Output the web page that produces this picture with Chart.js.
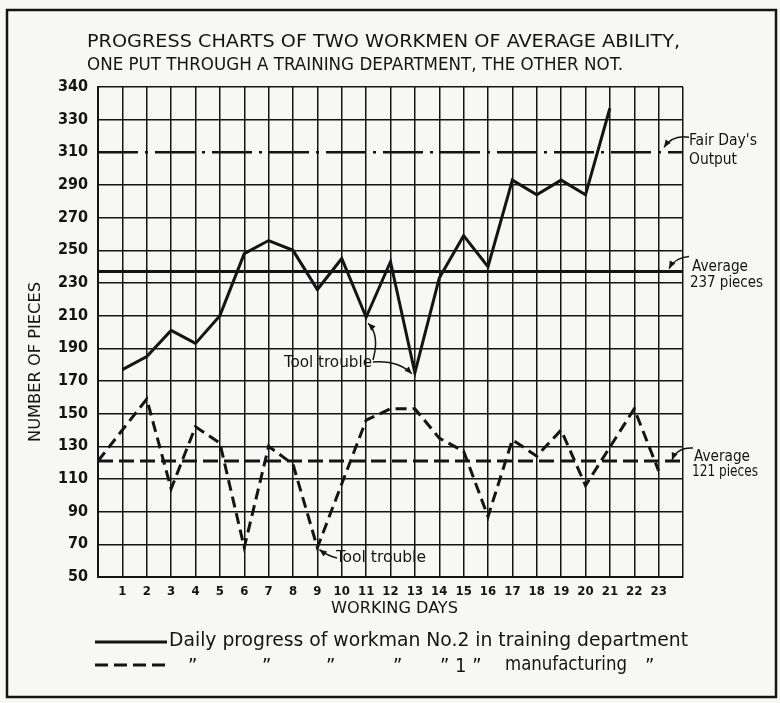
<!DOCTYPE html>
<html><head><meta charset="utf-8">
<script src="https://cdn.jsdelivr.net/npm/chart.js@4.4.1/dist/chart.umd.min.js"></script>
<style>html,body{margin:0;padding:0;background:#f7f7f5;}#wrap{width:780px;height:703px;}</style>
</head><body><div id="wrap"><canvas id="c" width="780" height="703"></canvas></div>
<script>
// ---- data ----
const titleLines = ["PROGRESS CHARTS OF TWO WORKMEN OF AVERAGE ABILITY,", "ONE PUT THROUGH A TRAINING DEPARTMENT, THE OTHER NOT."];
const xAxisTitle = "WORKING DAYS";
const yAxisTitle = "NUMBER OF PIECES";
const dayLabels = ["1","2","3","4","5","6","7","8","9","10","11","12","13","14","15","16","17","18","19","20","21","22","23"];
const yTickValues = [50,70,90,110,130,150,170,190,210,230,250,270,290,310,330,350];
const yTickLabels = ["50","70","90","110","130","150","170","190","210","230","250","270","290","310","330","340"];
const workman2Days = [1,2,3,4,5,6,7,8,9,10,11,12,13,14,15,16,17,18,19,20,21];
const workman2Pieces = [177,185,201,193,210,248,256,250,226,245,209,243,175,233,259,240,293,284,293,284,337];
const workman1Days = [0,2,3,4,5,6,7,8,9,11,12,13,14,15,16,17,18,19,20,22,23];
const workman1Pieces = [121,159,104,142,132,68,130,119,68,146,153,153,135,127,87,134,124,140,106,153,115];
const fairDayOutput = 310;
const workman2Average = 237;
const workman1Average = 121;
const annotationTexts = {fair:["Fair Day's","Output"], avg2:["Average","237 pieces"], avg1:["Average","121 pieces"], tool:"Tool trouble"};
const legendLine1 = "Daily progress of workman No.2 in training department";
const legendLine2Parts = ["\u201D","\u201D","\u201D","\u201D","\u201D 1 \u201D","manufacturing","\u201D"];

// ---- drawing ----
const FONT = '"DejaVu Sans Condensed","DejaVu Sans",sans-serif';
const INK = '#141414';
const pts = (xs, ys) => xs.map((x, i) => ({x, y: ys[i]}));
const flat = v => [{x:0,y:v},{x:24,y:v}];

// draw text left-aligned at (x,y), stretched/compressed horizontally to the given width
function fitText(c, text, x, y, width, size) {
  c.save();
  c.font = size + 'px ' + FONT; c.textAlign = 'left'; c.textBaseline = 'middle';
  const w = c.measureText(text).width;
  c.translate(x, y); c.scale(width / w, 1);
  c.fillText(text, 0, 0);
  c.restore();
}

function arrow(ctx, x0, y0, cx, cy, x1, y1) {
  ctx.beginPath(); ctx.moveTo(x0, y0); ctx.quadraticCurveTo(cx, cy, x1, y1); ctx.stroke();
  const a = Math.atan2(y1 - cy, x1 - cx), L = 8;
  ctx.beginPath();
  ctx.moveTo(x1, y1);
  ctx.lineTo(x1 - L*Math.cos(a - 0.4), y1 - L*Math.sin(a - 0.4));
  ctx.lineTo(x1 - L*Math.cos(a + 0.4), y1 - L*Math.sin(a + 0.4));
  ctx.closePath(); ctx.fill();
}

const decor = {
  id: 'decor',
  beforeDraw(chart) {
    const c = chart.ctx;
    c.save(); c.fillStyle = '#f7f7f5'; c.fillRect(0, 0, chart.width, chart.height); c.restore();
  },
  afterDraw(chart) {
    const c = chart.ctx, xs = chart.scales.x, ys = chart.scales.y, ca = chart.chartArea;
    const X = v => xs.getPixelForValue(v), Y = v => ys.getPixelForValue(v);
    c.save();
    c.fillStyle = INK; c.strokeStyle = INK;
    // frame
    c.lineWidth = 2.5; c.strokeRect(7, 10, 769, 687);
    // title
    fitText(c, titleLines[0], 87, 43, 593, 17);
    fitText(c, titleLines[1], 87, 66, 536, 17);
    // axis titles
    fitText(c, xAxisTitle, 331, 609, 127, 15);
    c.save(); c.translate(36, 362); c.rotate(-Math.PI/2); fitText(c, yAxisTitle, -80, 0, 160, 15); c.restore();
    // right-hand notes
    const rx = ca.right + 6;
    fitText(c, annotationTexts.fair[0], rx, Y(fairDayOutput) - 11, 68, 16);
    fitText(c, annotationTexts.fair[1], rx, Y(fairDayOutput) + 8, 48, 16);
    fitText(c, annotationTexts.avg2[0], rx + 3, Y(workman2Average) - 5, 56, 16);
    fitText(c, annotationTexts.avg2[1], rx + 1, Y(workman2Average) + 11, 73, 16);
    fitText(c, annotationTexts.avg1[0], rx + 5, Y(workman1Average) - 4, 56, 16);
    fitText(c, annotationTexts.avg1[1], rx + 3, Y(workman1Average) + 11, 66, 16);
    c.lineWidth = 1.5;
    arrow(c, rx, Y(fairDayOutput) - 15, ca.right - 10, Y(fairDayOutput) - 18, ca.right - 19, Y(fairDayOutput) - 5);
    arrow(c, rx, Y(workman2Average) - 15, ca.right - 8, Y(workman2Average) - 14, ca.right - 14, Y(workman2Average) - 3);
    arrow(c, rx + 4, Y(workman1Average) - 13, ca.right - 6, Y(workman1Average) - 14, ca.right - 11, Y(workman1Average) - 1);
    // tool trouble (upper)
    const i11 = workman2Days.indexOf(11), i13 = workman2Days.indexOf(13);
    fitText(c, annotationTexts.tool, 284, 363, 88, 16);
    arrow(c, 373, 360, 380, 335, X(11) + 2, Y(workman2Pieces[i11]) + 6);
    arrow(c, 373, 362, 398, 360, X(13) - 3, Y(workman2Pieces[i13]) + 1);
    // tool trouble (lower)
    const i9 = workman1Days.indexOf(9);
    fitText(c, annotationTexts.tool, 336, 558, 90, 16);
    arrow(c, 337, 558, 328, 556, X(9) + 2, Y(workman1Pieces[i9]) + 2);
    // legend
    c.lineWidth = 3; c.setLineDash([]);
    c.beginPath(); c.moveTo(95, 642); c.lineTo(167, 642); c.stroke();
    c.setLineDash([13, 6]);
    c.beginPath(); c.moveTo(95, 665); c.lineTo(167, 665); c.stroke();
    c.setLineDash([]);
    fitText(c, legendLine1, 169, 641, 519, 20);
    c.font = '20px ' + FONT; c.textAlign = 'left'; c.textBaseline = 'middle';
    const lx = [188, 262, 326, 393, 440, 505, 645];
    legendLine2Parts.forEach((t, i) => {
      if (t === 'manufacturing') fitText(c, t, lx[i], 665, 122, 20);
      else c.fillText(t, lx[i], 667);
    });
    c.restore();
  }
};

new Chart(document.getElementById('c'), {
  type: 'line',
  data: { datasets: [
    { label: 'Workman No.2, training department', data: pts(workman2Days, workman2Pieces), borderColor: INK, borderWidth: 3, pointRadius: 0, tension: 0 },
    { label: 'Workman No.1, manufacturing', data: pts(workman1Days, workman1Pieces), borderColor: INK, borderWidth: 3, borderDash: [11, 6], pointRadius: 0, tension: 0 },
    { label: "Fair Day's Output", data: flat(fairDayOutput), borderColor: INK, borderWidth: 2.5, borderDash: [40, 7, 3, 7], pointRadius: 0 },
    { label: 'Average 237', data: flat(workman2Average), borderColor: INK, borderWidth: 3, pointRadius: 0 },
    { label: 'Average 121', data: flat(workman1Average), borderColor: INK, borderWidth: 3, borderDash: [15, 6], pointRadius: 0 }
  ]},
  options: {
    responsive: false, animation: false, devicePixelRatio: 1,
    layout: { padding: { left: 0, right: 97, top: 87, bottom: 96 } },
    plugins: { legend: { display: false }, title: { display: false }, tooltip: { enabled: false } },
    scales: {
      x: {
        type: 'linear', min: 0, max: 24,
        afterFit(s) { s.height = 30; },
        afterBuildTicks(s) { s.ticks = Array.from({length: 25}, (_, i) => ({ value: i })); },
        grid: { color: INK, lineWidth: 1.5, drawTicks: false },
        border: { color: INK, width: 2 },
        ticks: { autoSkip: false, maxRotation: 0, padding: 7, color: INK, font: { family: FONT, size: 13, weight: 'bold' },
          callback(v) { return dayLabels[v - 1] ?? ''; } }
      },
      y: {
        min: 50, max: 350,
        afterFit(s) { s.width = 98; },
        afterBuildTicks(s) { s.ticks = yTickValues.map(v => ({ value: v })); },
        grid: { color: ctx => (ctx.tick && ctx.tick.value === fairDayOutput) ? 'rgba(0,0,0,0)' : INK, lineWidth: 1.5, drawTicks: false },
        border: { color: INK, width: 2 },
        ticks: { autoSkip: false, padding: 10, color: INK, font: { family: FONT, size: 16, weight: 'bold' },
          callback(v) { const i = yTickValues.indexOf(v); return i >= 0 ? yTickLabels[i] : ''; } }
      }
    }
  },
  plugins: [decor]
});
</script></body></html>
